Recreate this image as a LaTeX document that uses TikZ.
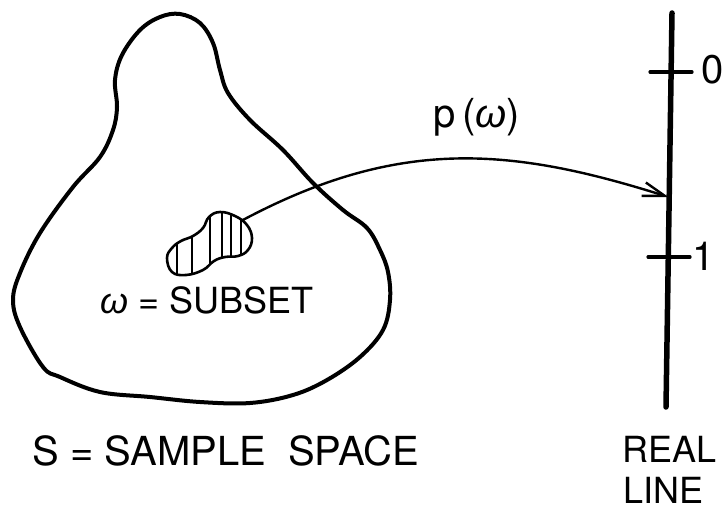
\documentclass[tikz,border=0pt]{standalone}
\usepackage{fontspec}
\setmainfont{TeX Gyre Heros}
\newfontfamily\grk{Liberation Sans}
\newcommand{\om}{{\grk\itshape ω}}
\usetikzlibrary{arrows.meta}
\begin{document}
\begin{tikzpicture}[x=1pt,y=-1pt,
  outline/.style={line width=4pt,line join=round},
  realline/.style={line width=5.5pt,line cap=round},
  tick/.style={line width=3.2pt,line cap=round},
  hatch/.style={line width=1.6pt},
  maparrow/.style={line width=2.4pt,-{Straight Barb[length=22pt,width=14pt,line width=2.4pt]}},
  lbl/.style={inner sep=0pt,font=\fontsize{40}{44}\selectfont},
  midlbl/.style={inner sep=0pt,font=\fontsize{36}{40}\selectfont},
  smalllbl/.style={inner sep=0pt,font=\fontsize{36}{40}\selectfont}]
\useasboundingbox (0,0) rectangle (727,511);
\fill[white] (0,0) rectangle (727,511);
% sample space outline
\draw[outline] plot[smooth cycle,tension=0.6] coordinates {
 (160,17) (140,30) (122,55) (115,80) (117,107) (113,130) (100,157) (73,187)
 (40,233) (20,273) (13,300) (20,327) (43,367) (60,377) (100,392) (150,397)
 (200,402) (250,403) (293,395) (327,380) (360,357) (383,330) (390,300)
 (388,272) (380,250) (367,228) (343,210) (313,183) (283,150) (250,120)
 (228,93) (220,70) (213,43) (200,23) (180,14)};
% subset blob
\def\blobpath{plot[smooth cycle,tension=0.7] coordinates {
 (167,258) (172,248) (181,241) (193,236) (203,228) (209,217) (220,212)
 (235,216) (247,225) (252,238) (248,250) (238,256) (225,257) (214,261)
 (203,270) (186,275) (172,272)}}
\begin{scope}
 \clip \blobpath;
 \foreach \hx in {177,192,210,222,231,241}
   \draw[hatch] (\hx,200) -- (\hx,290);
\end{scope}
\draw[line width=2.6pt] \blobpath;
\coordinate (subset) at (241,221);
% real line
\coordinate (lineTop) at (672,13);
\coordinate (lineBot) at (666,407);
\draw[realline] (lineTop) -- (lineBot);
\coordinate (zeroL) at (650,72);
\coordinate (zeroR) at (692,72);
\coordinate (oneL) at (648,257);
\coordinate (oneR) at (690,257);
\draw[tick] (zeroL) -- (zeroR);
\draw[tick] (oneL) -- (oneR);
\coordinate (hit) at (668.5,197);
% mapping arrow
\draw[maparrow] (subset) .. controls (398,137) and (510,147) .. (hit);
% labels
\node[lbl,anchor=center] (zero) at (713,70) {0};
\node[lbl,anchor=center] (one) at (704,256) {1};
\node[lbl,anchor=base west] (pw) at (433,127) {p\,(\om)};
\node[smalllbl,anchor=base west] (sub) at (100,313) {\om\ = SUBSET};
\node[lbl,anchor=base west] (ss) at (32,465) {S = SAMPLE\ \ SPACE};
\node[midlbl,anchor=base west] (real) at (622,462) {REAL};
\node[midlbl,anchor=base west] (line) at (623,503) {LINE};
\end{tikzpicture}
\end{document}
